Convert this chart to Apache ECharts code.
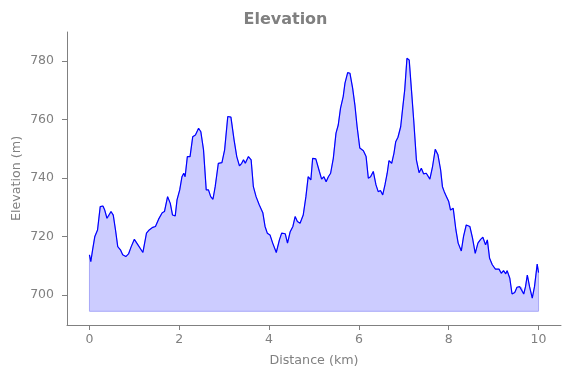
<!DOCTYPE html>
<html>
<head>
<meta charset="utf-8">
<script src="https://cdn.jsdelivr.net/npm/echarts@6/dist/echarts.min.js"></script>
<style>html,body{margin:0;padding:0;background:#fff}#main{width:571px;height:378px}</style>
</head>
<body>
<div id="main"></div>
<script>
// elevation profile
var distKm = [0.00,0.03,0.07,0.12,0.18,0.24,0.30,0.34,0.39,0.43,0.48,0.53,0.58,0.63,0.69,0.74,0.81,0.87,0.93,1.00,
  1.08,1.19,1.27,1.33,1.41,1.47,1.54,1.62,1.67,1.74,1.80,1.85,1.91,1.95,2.01,2.06,2.10,2.13,2.18,2.24,
  2.30,2.36,2.43,2.48,2.54,2.60,2.65,2.70,2.75,2.80,2.87,2.95,3.01,3.08,3.15,3.22,3.28,3.34,3.39,3.43,
  3.47,3.54,3.60,3.65,3.71,3.78,3.86,3.91,3.96,4.02,4.08,4.16,4.23,4.28,4.36,4.41,4.47,4.53,4.58,4.63,
  4.69,4.76,4.82,4.87,4.93,4.97,5.04,5.12,5.17,5.22,5.27,5.32,5.37,5.43,5.49,5.54,5.59,5.65,5.69,5.75,
  5.80,5.86,5.91,5.96,6.02,6.10,6.16,6.21,6.26,6.32,6.38,6.43,6.48,6.53,6.58,6.63,6.67,6.73,6.78,6.82,
  6.87,6.93,6.97,7.02,7.07,7.12,7.17,7.22,7.28,7.34,7.39,7.44,7.50,7.58,7.64,7.70,7.76,7.82,7.86,7.90,
  7.95,8.00,8.04,8.10,8.16,8.21,8.28,8.33,8.39,8.47,8.53,8.59,8.65,8.71,8.76,8.82,8.86,8.91,8.97,9.04,
  9.12,9.17,9.22,9.27,9.30,9.36,9.41,9.47,9.52,9.58,9.62,9.67,9.71,9.75,9.80,9.86,9.91,9.97,10.00];
var elevM = [713.7,711.4,715.4,720.0,722.2,730.2,730.4,729.0,726.2,726.6,728.5,727.3,722.2,716.5,715.4,713.7,713.1,714.0,716.5,719.0,
  717.1,714.5,721.1,722.2,723.1,723.4,725.9,728.1,728.5,733.6,731.3,727.3,727.0,732.5,735.9,740.4,741.6,740.4,747.3,747.3,
  754.1,754.7,757.0,755.8,749.6,735.9,735.9,733.6,732.7,737.0,745.0,745.2,749.6,761.0,760.8,753.0,747.3,744.1,745.0,746.2,
  745.0,747.3,746.2,737.0,733.6,730.8,728.1,723.4,721.1,720.5,717.7,714.5,718.8,721.1,720.9,717.7,721.6,723.4,726.8,725.1,
  724.5,727.3,733.6,740.4,739.3,746.7,746.5,742.2,739.6,740.4,738.7,740.4,741.6,746.7,755.3,758.1,763.8,767.8,772.4,776.0,
  775.8,770.7,765.0,757.5,750.2,749.3,747.3,739.9,740.4,742.2,737.6,735.3,735.7,734.2,737.6,741.6,745.9,745.0,748.4,752.4,
  753.9,757.5,763.2,770.1,780.9,780.3,770.1,759.8,746.2,741.8,743.3,741.4,741.6,739.6,743.9,749.8,747.9,742.7,737.0,735.3,
  733.6,731.9,729.0,729.6,722.2,717.7,715.0,720.0,723.9,723.4,719.4,714.2,717.7,719.0,719.7,717.1,718.8,712.5,710.3,708.8,
  708.8,707.4,708.3,707.2,708.3,705.7,700.3,700.8,702.6,702.8,702.5,700.3,702.8,706.8,702.8,698.9,702.8,710.5,707.6];
var fillBase = 694.4;
var xTicks = [0, 2, 4, 6, 8, 10];
var yTicks = [700, 720, 740, 760, 780];

var lineData = distKm.map(function (d, i) { return [d, elevM[i]]; });
var grey = '#808080';
var font = 'DejaVu Sans';

var chart = echarts.init(document.getElementById('main'), null, {renderer: 'canvas'});
chart.setOption({
  animation: false,
  title: {
    text: 'Elevation', left: 'center', top: 7,
    textStyle: {color: grey, fontFamily: font, fontWeight: 'bold', fontSize: 16}
  },
  grid: {left: 67, right: 10, top: 32, bottom: 53, outerBoundsMode: 'none', containLabel: false},
  xAxis: {
    type: 'value', min: -0.5, max: 10.5,
    name: 'Distance (km)', nameLocation: 'middle', nameGap: 29, nameMoveOverlap: false,
    nameTextStyle: {color: grey, fontFamily: font, fontSize: 12.7},
    axisLine: {show: true, onZero: false, lineStyle: {color: grey, width: 1}},
    axisTick: {show: true, length: 5, customValues: xTicks, lineStyle: {color: grey}},
    axisLabel: {customValues: xTicks, color: grey, fontFamily: font, fontSize: 12.5, margin: 8},
    splitLine: {show: false}
  },
  yAxis: {
    type: 'value', min: 689.7, max: 789.9,
    name: 'Elevation (m)', nameLocation: 'middle', nameGap: 44, nameMoveOverlap: false,
    nameTextStyle: {color: grey, fontFamily: font, fontSize: 12.7},
    axisLine: {show: true, onZero: false, lineStyle: {color: grey, width: 1}},
    axisTick: {show: true, length: 5, customValues: yTicks, lineStyle: {color: grey}},
    axisLabel: {customValues: yTicks, color: grey, fontFamily: font, fontSize: 12.5, margin: 13},
    splitLine: {show: false}
  },
  series: [
    {
      type: 'custom', silent: true, z: 1,
      data: [[0, fillBase]],
      renderItem: function (params, api) {
        var pts = [api.coord([distKm[0], fillBase])];
        for (var i = 0; i < distKm.length; i++) pts.push(api.coord([distKm[i], elevM[i]]));
        pts.push(api.coord([distKm[distKm.length - 1], fillBase]));
        return {type: 'polygon', shape: {points: pts}, style: {fill: '#ccccff', stroke: '#a8a8f8', lineWidth: 1}};
      }
    },
    {
      type: 'line', z: 3, data: lineData, showSymbol: false, smooth: false,
      lineStyle: {color: '#0000ff', width: 1.2}
    }
  ]
});
</script>
</body>
</html>
